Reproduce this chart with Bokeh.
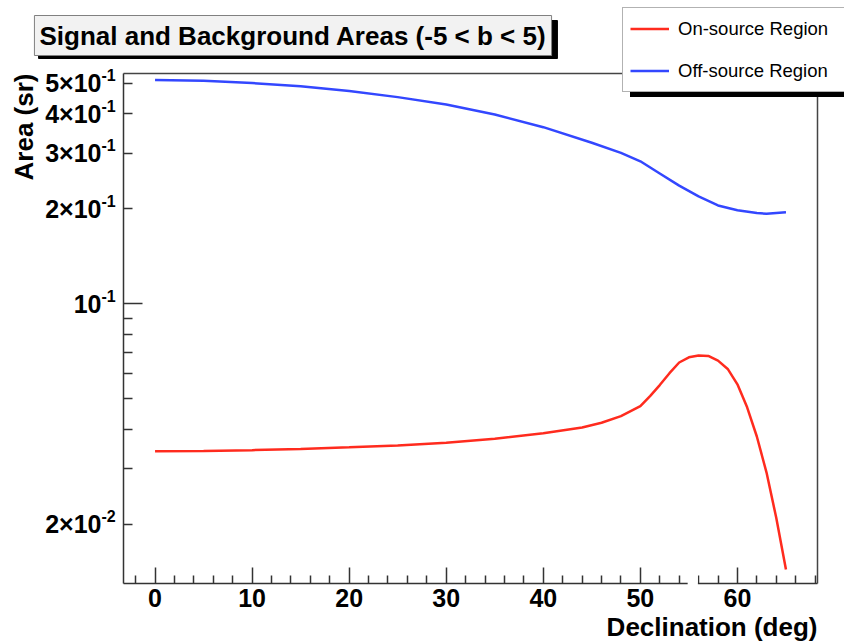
import math
from bokeh.plotting import figure
from bokeh.models import (Range1d, FixedTicker, Label, Legend, LegendItem,
                          LinearAxis, LogAxis)
from bokeh.embed import file_html
from bokeh.resources import INLINE

# ---------------- data ----------------
dec_on = [0, 5, 10, 15, 20, 25, 30, 35, 40, 44, 46, 48, 50, 51, 52, 53, 54,
          55, 56, 57, 58, 59, 60, 61, 62, 63, 64, 65]
area_on = [0.0341, 0.0342, 0.0344, 0.0347, 0.0351, 0.0356, 0.0363, 0.0374,
           0.0389, 0.0406, 0.0420, 0.0441, 0.0474, 0.0510, 0.0553, 0.0603,
           0.0652, 0.0677, 0.0686, 0.0684, 0.0661, 0.0622, 0.0556, 0.0470,
           0.0380, 0.0292, 0.0210, 0.0144]

dec_off = [0, 5, 10, 15, 20, 25, 30, 35, 40, 45, 48, 50, 52, 54, 56, 58, 60,
           62, 63, 64, 65]
area_off = [0.512, 0.509, 0.501, 0.489, 0.473, 0.452, 0.428, 0.398, 0.363,
            0.324, 0.301, 0.283, 0.259, 0.237, 0.219, 0.205, 0.198, 0.194,
            0.193, 0.194, 0.195]

x_major = [0, 10, 20, 30, 40, 50, 60]
x_minor = [-2, 2, 4, 6, 8, 12, 14, 16, 18, 22, 24, 26, 28, 32, 34, 36, 38,
           42, 44, 46, 48, 52, 54, 56, 58, 62, 64, 66, 68]
y_major = [0.1]
y_minor = [0.02, 0.03, 0.04, 0.05, 0.06, 0.07, 0.08, 0.09, 0.2, 0.3, 0.4, 0.5]

ytick_vals = [0.5, 0.4, 0.3, 0.2, 0.1, 0.02]
ytick_mant = ["5\u00d710", "4\u00d710", "3\u00d710", "2\u00d710", "10", "2\u00d710"]
ytick_exp = ["-1", "-1", "-1", "-1", "-1", "-2"]

title_text = "Signal and Background Areas (-5 < b < 5)"
x_title = "Declination (deg)"
y_title = "Area (sr)"
legend_labels = ["On-source Region", "Off-source Region"]

# axis (data) limits of the ROOT frame
X0, X1 = -3.25, 68.25
Y0, Y1 = 0.013, 0.537

# ---------------- layout ----------------
W, H = 844, 644
FL, FR, FT, FB = 123, 817, 73, 583     # frame box in canvas pixels

# the Bokeh frame covers the whole canvas; axes are pinned at the ROOT frame
ux = (X1 - X0) / (FR - FL)
dpp = math.log10(Y1 / Y0) / (FB - FT)
XA, XB = X0 - FL * ux, X1 + (W - FR) * ux
YA, YB = Y0 / 10 ** ((H - FB) * dpp), Y1 * 10 ** (FT * dpp)

RED = "#ff2b1e"
BLUE = "#3347ff"
FONT = "Liberation Sans"
AX = "#333333"

p = figure(width=W, height=H, min_border=0,
           x_range=Range1d(XA, XB), y_range=Range1d(YA, YB),
           y_axis_type="log", output_backend="svg", toolbar_location=None,
           background_fill_color="white", border_fill_color="white")
p.title.visible = False
p.grid.visible = False
p.outline_line_color = None

xa = p.xaxis[0]
xa.fixed_location = Y0
xa.bounds = (X0, X1)
xa.ticker = FixedTicker(ticks=x_major, minor_ticks=x_minor)
xa.major_tick_in = 16
xa.major_tick_out = 0
xa.minor_tick_in = 8
xa.minor_tick_out = 0
xa.axis_line_color = AX
xa.axis_line_width = 1.5
xa.major_tick_line_color = AX
xa.major_tick_line_width = 1.5
xa.minor_tick_line_color = AX
xa.minor_tick_line_width = 1.5
xa.major_label_text_font = FONT
xa.major_label_text_font_style = "bold"
xa.major_label_text_font_size = "25px"
xa.major_label_text_color = "black"
xa.major_label_standoff = 5

ya = p.yaxis[0]
ya.fixed_location = X0
ya.bounds = (Y0, Y1)
ya.ticker = FixedTicker(ticks=y_major, minor_ticks=y_minor)
ya.major_tick_in = 19
ya.major_tick_out = 0
ya.minor_tick_in = 9
ya.minor_tick_out = 0
ya.axis_line_color = AX
ya.axis_line_width = 1.5
ya.major_tick_line_color = AX
ya.major_tick_line_width = 1.5
ya.minor_tick_line_color = AX
ya.minor_tick_line_width = 1.5
ya.major_label_text_font_size = "10px"
ya.major_label_text_color = None   # drawn below as labels with exponents

# top and right sides of the frame (axes without ticks)
top = LinearAxis(fixed_location=Y1, bounds=(X0, X1),
                 ticker=FixedTicker(ticks=[]), axis_line_color="#444444",
                 axis_line_width=1.5, major_tick_line_color=None,
                 minor_tick_line_color=None, major_label_text_color=None)
right = LogAxis(fixed_location=X1, bounds=(Y0, Y1),
                ticker=FixedTicker(ticks=[]), axis_line_color="#444444",
                axis_line_width=1.5, major_tick_line_color=None,
                minor_tick_line_color=None, major_label_text_color=None)
p.add_layout(top, "above")
p.add_layout(right, "right")

r_on = p.line(dec_on, area_on, line_color=RED, line_width=2.5)
r_off = p.line(dec_off, area_off, line_color=BLUE, line_width=2.5)

# title pave: black shadow box (blank text of the same width) + pave
p.add_layout(Label(x=X0, y=Y1, x_offset=174.5, y_offset=34,
                   text="\u00a0" * 71, text_align="center",
                   text_baseline="middle", text_font=FONT,
                   text_font_style="bold", text_font_size="25.8px",
                   text_color="black", padding=5,
                   background_fill_color="black", border_line_color="black"))
p.add_layout(Label(x=X0, y=Y1, x_offset=169.5, y_offset=38, text=title_text,
                   text_align="center", text_baseline="middle",
                   text_font=FONT, text_font_style="bold",
                   text_font_size="26px", text_color="black", padding=5,
                   background_fill_color="#f2f2f2",
                   border_line_color="#808080"))

# small gap in the x axis line
p.add_layout(Label(x=55.4, y=Y0, text=" ", text_color="white",
                   text_font_size="8px", text_align="center",
                   text_baseline="middle", padding=4,
                   background_fill_color="white"))

# y tick labels with superscript exponents
for v, m, e in zip(ytick_vals, ytick_mant, ytick_exp):
    p.add_layout(Label(x=X0, y=v, x_offset=-22, y_offset=0, text=m,
                       text_align="right", text_baseline="middle",
                       text_font=FONT, text_font_style="bold",
                       text_font_size="25px", text_color="black"))
    p.add_layout(Label(x=X0, y=v, x_offset=-22, y_offset=8, text=e,
                       text_align="left", text_baseline="middle",
                       text_font=FONT, text_font_style="bold",
                       text_font_size="16px", text_color="black"))

# axis titles
p.add_layout(Label(x=X0, y=Y1, x_offset=-100, y_offset=0, text=y_title,
                   angle=math.pi / 2, text_align="right",
                   text_baseline="alphabetic", text_font=FONT,
                   text_font_style="bold", text_font_size="26px",
                   text_color="black"))
p.add_layout(Label(x=X1, y=Y0, x_offset=0, y_offset=-43.5, text=x_title,
                   text_align="right", text_baseline="alphabetic",
                   text_font=FONT, text_font_style="bold",
                   text_font_size="26px", text_color="black"))

# legend: black shadow copy (blank labels), then the real legend
leg_kw = dict(orientation="vertical", padding=7, spacing=15, margin=0,
              glyph_width=39, glyph_height=27, label_height=27,
              label_standoff=9, label_width=170,
              label_text_font=FONT, label_text_font_size="18.5px",
              label_text_baseline="middle", border_line_width=1,
              background_fill_alpha=1.0)
shadow_items = [LegendItem(label=" ", renderers=[r_on]),
                LegendItem(label=" ", renderers=[r_off])]
items = [LegendItem(label=legend_labels[0], renderers=[r_on]),
         LegendItem(label=legend_labels[1], renderers=[r_off])]
shadow = Legend(items=shadow_items, location=(630, 547),
                label_text_color=None, border_line_color="black",
                background_fill_color="black", **leg_kw)
leg = Legend(items=items, location=(622, 552), label_text_color="black",
             border_line_color="#666666", background_fill_color="white",
             **leg_kw)
p.add_layout(shadow)
p.add_layout(leg)

open("out.html", "w").write(file_html(p, INLINE))
